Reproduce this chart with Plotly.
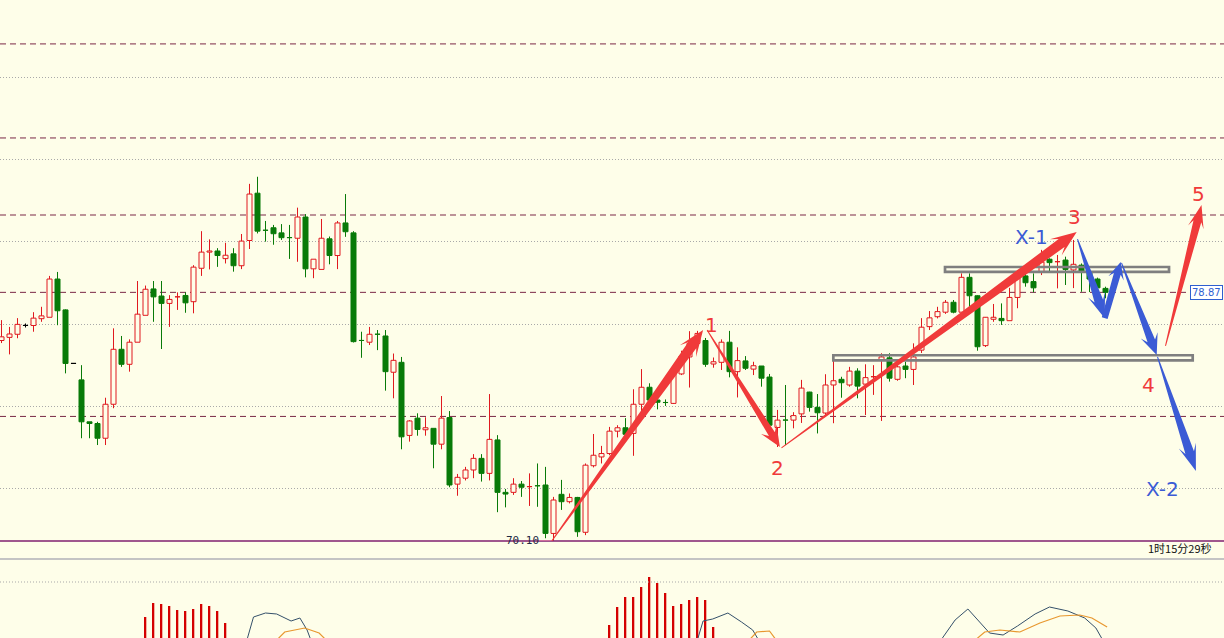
import plotly.graph_objects as go

W, H = 1224, 638
BG = "#fefee9"
RED = "#e0191f"
GREEN = "#087a08"
DASH_COL = "#7a2846"

# ---------------- price data (one candle per bar index) ----------------
opens = [77.17, 77.28, 77.39, 77.70, 77.70, 77.94, 77.99, 79.34, 78.25, 76.36,
         75.78, 74.30, 74.24, 73.72, 74.92, 76.86, 76.33, 77.11, 78.06, 78.99,
         78.74, 78.48, 78.71, 78.76, 78.54, 79.72, 80.29, 80.33, 80.06, 80.23,
         79.81, 80.70, 82.37, 81.06, 81.15, 80.97, 80.80, 80.78, 81.53, 79.70,
         79.68, 80.76, 80.17, 81.32, 80.97, 77.17, 77.11, 77.39, 77.33, 76.05,
         76.40, 73.82, 74.43, 74.02, 74.07, 73.51, 74.45, 72.10, 72.31, 72.60,
         73.01, 72.48, 73.66, 71.81, 71.81, 72.10, 72.01, 72.04, 72.07, 70.36,
         71.74, 71.48, 71.63, 70.40, 72.75, 73.06, 73.18, 73.97, 74.09, 73.89,
         74.92, 75.52, 75.07, 74.98, 74.95, 75.99, 76.59, 77.07, 77.17, 76.34,
         76.40, 77.11, 76.07, 76.45, 76.16, 76.27, 75.88, 74.10, 74.36, 74.36,
         74.58, 75.35, 74.81, 74.61, 75.60, 75.80, 75.60, 76.09, 75.63, 75.89,
         76.48, 76.56, 75.80, 76.27, 76.15, 76.83, 77.66, 78.01, 78.17, 78.52,
         78.17, 79.40, 78.75, 76.99, 77.92, 77.95, 77.87, 78.69, 79.45, 79.25,
         79.59, 80.04, 79.95, 80.01, 79.66, 79.83, 79.59, 79.34, 79.01]
highs = [77.89, 77.65, 77.96, 77.77, 78.17, 78.36, 79.45, 79.59, 78.27, 76.36,
         76.30, 74.30, 74.30, 75.15, 77.60, 77.33, 77.21, 79.27, 79.11, 79.27,
         79.27, 78.77, 78.87, 78.87, 79.83, 81.03, 80.74, 80.43, 80.62, 80.43,
         80.93, 82.70, 82.95, 81.39, 81.25, 81.28, 81.25, 81.86, 81.63, 80.04,
         81.46, 80.84, 81.39, 82.34, 81.03, 77.48, 77.65, 77.54, 77.54, 76.71,
         76.59, 74.36, 74.60, 74.46, 74.07, 75.21, 74.68, 72.46, 72.71, 73.16,
         73.16, 75.28, 73.83, 71.93, 72.31, 72.21, 72.48, 72.83, 72.71, 71.65,
         72.25, 71.77, 71.65, 72.83, 73.87, 73.45, 74.12, 74.18, 74.43, 75.45,
         76.16, 75.66, 75.19, 75.09, 76.10, 76.81, 77.50, 77.51, 77.26, 76.57,
         77.21, 77.51, 76.93, 76.62, 76.42, 76.27, 75.99, 74.72, 75.60, 74.64,
         75.78, 75.36, 75.28, 75.98, 76.62, 75.89, 76.24, 76.19, 76.33, 76.30,
         76.72, 76.72, 76.30, 76.42, 77.07, 77.96, 78.21, 78.36, 78.60, 78.60,
         79.54, 79.54, 78.77, 78.00, 78.46, 78.48, 79.03, 79.66, 79.54, 79.54,
         80.37, 80.07, 80.19, 80.13, 80.72, 79.89, 79.73, 79.39, 79.07]
lows = [77.08, 76.68, 77.25, 77.63, 77.48, 77.83, 77.99, 77.71, 76.01, 76.36,
        73.72, 73.72, 73.48, 73.48, 74.78, 76.24, 76.07, 77.11, 78.06, 77.83,
        76.87, 77.65, 78.25, 78.15, 78.13, 79.45, 79.68, 79.77, 79.89, 79.60,
        79.69, 80.40, 80.95, 80.66, 80.55, 80.72, 80.05, 79.95, 79.40, 79.37,
        79.68, 79.86, 79.69, 80.83, 77.10, 76.56, 77.01, 76.83, 75.40, 75.13,
        73.33, 73.60, 73.81, 73.81, 72.66, 73.33, 71.99, 71.69, 72.23, 72.31,
        72.19, 72.23, 71.11, 71.28, 71.72, 71.65, 71.33, 71.30, 70.19, 70.10,
        71.19, 71.42, 70.24, 70.30, 72.69, 72.83, 73.12, 73.75, 73.78, 73.10,
        74.60, 75.01, 74.74, 74.86, 74.93, 75.95, 75.51, 76.95, 76.24, 76.21,
        76.13, 75.87, 75.16, 76.13, 75.95, 75.54, 74.01, 73.41, 73.48, 74.07,
        74.26, 74.66, 73.89, 74.48, 74.25, 75.15, 75.54, 75.13, 74.54, 75.25,
        74.33, 75.72, 75.75, 75.84, 75.60, 76.73, 77.54, 77.95, 78.11, 78.13,
        78.17, 78.25, 76.81, 76.94, 77.83, 77.72, 77.87, 78.31, 79.07, 78.87,
        79.48, 79.60, 79.01, 79.13, 79.02, 78.89, 78.88, 78.95, 78.66]
closes = [77.30, 77.40, 77.74, 77.70, 77.96, 78.04, 79.34, 78.22, 76.36, 76.36,
          74.30, 74.24, 73.72, 74.92, 76.86, 76.33, 77.11, 78.10, 78.98, 78.71,
          78.48, 78.62, 78.71, 78.50, 79.76, 80.29, 80.33, 80.17, 80.18, 79.81,
          80.68, 82.34, 81.03, 81.06, 80.94, 80.80, 80.80, 81.53, 79.70, 80.04,
          80.78, 80.17, 81.32, 81.01, 77.13, 77.17, 77.39, 77.39, 76.07, 76.47,
          73.77, 74.33, 74.03, 74.09, 73.51, 74.43, 72.07, 72.34, 72.60, 73.01,
          72.48, 73.68, 71.81, 71.75, 72.10, 71.99, 72.01, 72.04, 70.36, 71.54,
          71.48, 71.63, 70.42, 72.77, 73.12, 73.18, 73.97, 74.09, 73.86, 74.92,
          75.52, 75.07, 74.99, 74.98, 75.99, 76.62, 77.07, 77.42, 76.33, 76.42,
          77.11, 76.07, 76.46, 76.19, 76.28, 75.84, 74.18, 74.36, 74.36, 74.52,
          75.49, 74.81, 74.62, 75.60, 75.75, 75.68, 76.09, 75.56, 75.86, 75.89,
          76.59, 75.84, 76.24, 76.15, 76.59, 77.64, 77.97, 78.19, 78.52, 78.17,
          79.40, 78.75, 76.95, 77.99, 77.99, 77.87, 78.69, 79.48, 79.21, 79.03,
          79.94, 79.92, 79.95, 79.68, 79.86, 79.60, 79.34, 79.03, 78.87]
# colour of the doji candles (open == close)
doji_colors = {3: "k", 9: "k", 22: "r", 33: "g", 36: "g", 45: "g", 47: "g",
               66: "r", 67: "g", 83: "g", 98: "g", 109: "r", 132: "r"}

# horizontal levels
dashed_levels = [87.64, 84.32, 81.60, 78.87, 74.49]
grid_start, grid_step = 71.95, 2.9
current_price = 78.87
zone_upper = (117.94, 145.94, 79.59, 79.765)   # i0, i1, p0, p1
zone_lower = (103.98, 148.9, 76.47, 76.65)

# wave arrows: (tail index, tail price, tip index, tip price, w0, w1, head len, head half-width, colour)
RED_A = "#f03a3a"
BLUE_A = "#3b5bd5"
arrows = [
    (68.8, 70.10, 87.7, 77.54, 1, 10, 26, 10, RED_A),
    (88.2, 77.54, 97.3, 73.41, 1, 7, 21, 9, RED_A),
    (97.5, 73.38, 134.4, 81.00, 1, 10, 26, 10, RED_A),
    (134.5, 80.75, 137.9, 77.96, 1, 9, 25, 9, BLUE_A),
    (137.9, 77.96, 139.9, 79.94, 6, 7, 17, 8, BLUE_A),
    (140.0, 79.91, 144.4, 76.66, 1, 8, 21, 9, BLUE_A),
    (144.5, 76.59, 149.3, 72.56, 1, 9, 27, 9, BLUE_A),
    (145.5, 76.98, 150.0, 81.95, 1, 8, 23, 8, RED_A),
]
wave_labels = [("1", 88.79, 77.72, RED_A), ("2", 97.04, 72.67, RED_A),
               ("3", 134.16, 81.53, RED_A), ("4", 143.41, 75.60, RED_A),
               ("5", 149.66, 82.34, RED_A), ("X-1", 128.79, 80.82, BLUE_A),
               ("X-2", 145.16, 71.93, BLUE_A)]

# ---------------- lower indicator panel ----------------
hist_idx = list(range(18, 29)) + list(range(76, 90))
hist_vals = [0.21, 0.35, 0.34, 0.32, 0.28, 0.27, 0.29, 0.34, 0.32, 0.27, 0.15,
             0.13, 0.31, 0.41, 0.41, 0.51, 0.61, 0.55, 0.45, 0.32, 0.34, 0.38, 0.41, 0.38, 0.11]
main_x = [30.5, 31.5, 33.0, 34.4, 36.2, 37.3, 38.2, 38.9, None,
          86.8, 87.7, 88.9, 90.8, 92.5, 93.9, 95.0, None,
          117.0, 119.2, 120.8, 122.0, 123.5, 125.2, 127.0, 129.2, 131.0, 133.3, 135.4, 136.8, 138.0]
main_v = [-0.07, 0.21, 0.25, 0.24, 0.17, 0.20, 0.08, -0.07, None,
          -0.07, 0.17, 0.19, 0.25, 0.16, 0.08, -0.07, None,
          -0.07, 0.18, 0.29, 0.18, 0.05, 0.03, 0.12, 0.24, 0.31, 0.27, 0.20, 0.10, -0.07]
sig_x = [33.8, 35.4, 37.9, 39.7, 41.2, None,
         92.9, 94.4, 96.0, 97.3, None,
         121.0, 122.9, 124.8, 127.3, 129.8, 132.3, 134.8, 136.3, 138.2]
sig_v = [-0.07, 0.06, 0.10, 0.05, -0.07, None,
         -0.07, 0.06, 0.07, -0.07, None,
         -0.07, 0.06, 0.08, 0.06, 0.15, 0.22, 0.23, 0.20, 0.11]

# ---------------- axes geometry ----------------
X0 = -1.5 / 8
X1 = X0 + W / 8
P_TOP, P_BOT = 89.19, 70.0927
MAIN_PX = 541
MAIN_DOM0 = 1 - MAIN_PX / H
SUB_TOP_PX = 559
SUB_DOM1 = 1 - SUB_TOP_PX / H


def to_px(i, p):
    return ((i - X0) / (X1 - X0) * W, (P_TOP - p) / (P_TOP - P_BOT) * MAIN_PX)


def to_dat(x, y):
    return (X0 + x / W * (X1 - X0), P_TOP - y / MAIN_PX * (P_TOP - P_BOT))


def arrow_path(ti, tp, hi, hp, w0, w1, hl, hw):
    tx, ty = to_px(ti, tp)
    px, py = to_px(hi, hp)
    dx, dy = px - tx, py - ty
    L = (dx * dx + dy * dy) ** 0.5
    ux, uy = dx / L, dy / L
    nx, ny = -uy, ux
    bsx, bsy = px - ux * hl * 0.72, py - uy * hl * 0.72
    bbx, bby = px - ux * hl, py - uy * hl
    pts = [(tx + nx * w0 / 2, ty + ny * w0 / 2),
           (bsx + nx * w1 / 2, bsy + ny * w1 / 2),
           (bbx + nx * hw, bby + ny * hw),
           (px, py),
           (bbx - nx * hw, bby - ny * hw),
           (bsx - nx * w1 / 2, bsy - ny * w1 / 2),
           (tx - nx * w0 / 2, ty - ny * w0 / 2)]
    d = [to_dat(x, y) for x, y in pts]
    return "M " + " L ".join(f"{a:.4f},{b:.4f}" for a, b in d) + " Z"


n = len(opens)
idx = list(range(n))
kind = []
for i in idx:
    if closes[i] > opens[i]:
        kind.append("r")
    elif closes[i] < opens[i]:
        kind.append("g")
    else:
        kind.append(doji_colors.get(i, "k"))
line_col = {"r": RED, "g": GREEN, "k": "#000000"}
fill_col = {"r": BG, "g": GREEN, "k": "#000000"}

fig = go.Figure()

# wicks
for k in "rgk":
    xs, ys = [], []
    for i in idx:
        if kind[i] != k:
            continue
        top = max(opens[i], closes[i])
        bot = min(opens[i], closes[i])
        if highs[i] > top:
            xs += [i, i, None]
            ys += [highs[i], top, None]
        if lows[i] < bot:
            xs += [i, i, None]
            ys += [bot, lows[i], None]
    if xs:
        fig.add_trace(go.Scatter(x=xs, y=ys, mode="lines", hoverinfo="skip",
                                 line=dict(color=line_col[k], width=1)))

# bodies
body_base = [min(o, c) for o, c in zip(opens, closes)]
body_h = [max(abs(c - o), 0.004) for o, c in zip(opens, closes)]
fig.add_trace(go.Bar(x=idx, y=body_h, base=body_base, width=0.625, hoverinfo="skip",
                     marker=dict(color=[fill_col[k] for k in kind],
                                 line=dict(color=[line_col[k] for k in kind], width=1))))

# indicator panel
fig.add_trace(go.Bar(x=hist_idx, y=[v + 0.3 for v in hist_vals], base=-0.3, width=0.2,
                     marker=dict(color="#d40000", line=dict(width=0)),
                     xaxis="x2", yaxis="y2", hoverinfo="skip"))
fig.add_trace(go.Scatter(x=main_x, y=main_v, mode="lines", line=dict(color="#34506a", width=1),
                         xaxis="x2", yaxis="y2", hoverinfo="skip"))
fig.add_trace(go.Scatter(x=sig_x, y=sig_v, mode="lines", line=dict(color="#e8972e", width=1.2),
                         xaxis="x2", yaxis="y2", hoverinfo="skip"))

shapes = []
for lv in dashed_levels:
    x1 = 1188 / W if lv == current_price else 1
    shapes.append(dict(type="line", xref="paper", yref="y", x0=0, x1=x1, y0=lv, y1=lv,
                       line=dict(color=DASH_COL, width=1, dash="6px,4px"), layer="below"))
# panel separators
shapes.append(dict(type="line", xref="paper", yref="paper", x0=0, x1=1,
                   y0=MAIN_DOM0, y1=MAIN_DOM0, line=dict(color="#7f1f6f", width=1.5)))
shapes.append(dict(type="line", xref="paper", yref="paper", x0=0, x1=1,
                   y0=SUB_DOM1, y1=SUB_DOM1, line=dict(color="#c4c4c4", width=2)))
shapes.append(dict(type="line", xref="paper", yref="y2", x0=0, x1=1, y0=0.56, y1=0.56,
                   line=dict(color="#a9a9a9", width=1, dash="1px,2px")))
# zones
for z in (zone_upper, zone_lower):
    shapes.append(dict(type="rect", xref="x", yref="y", x0=z[0], x1=z[1], y0=z[2], y1=z[3],
                       line=dict(color="#7f7f7f", width=2.7), fillcolor="rgba(0,0,0,0)", layer="above"))
# low marker tick
shapes.append(dict(type="line", xref="x", yref="y", x0=67.1, x1=68.8, y0=lows[69], y1=lows[69],
                   line=dict(color="#e27aa0", width=1)))
# arrows
for a in arrows:
    shapes.append(dict(type="path", xref="x", yref="y", path=arrow_path(*a[:8]),
                       fillcolor=a[8], line=dict(width=0), layer="above"))

annotations = []
for txt, xi, yp, c in wave_labels:
    annotations.append(dict(x=xi, y=yp, xref="x", yref="y", text=txt, showarrow=False,
                            font=dict(family="DejaVu Sans", size=20, color=c)))
annotations.append(dict(x=65.1, y=lows[69], xref="x", yref="y", text=f"{lows[69]:.2f}",
                        showarrow=False, font=dict(family="DejaVu Sans Mono", size=11, color="#1f2a44")))
annotations.append(dict(x=1190 / W, y=1 - 292.8 / H, xref="paper", yref="paper", xanchor="left",
                        yanchor="middle", text=f"{current_price:.2f}", showarrow=False,
                        bgcolor="#ffffff", bordercolor="#2f5fd0", borderwidth=1, borderpad=1,
                        font=dict(family="DejaVu Sans", size=10, color="#2f5fd0")))
annotations.append(dict(x=1214 / W, y=1 - 548 / H, xref="paper", yref="paper", xanchor="right",
                        yanchor="middle", text="1时15分29秒", showarrow=False,
                        font=dict(family="Noto Sans CJK SC", size=11, color="#111111")))

fig.update_layout(
    width=W, height=H, margin=dict(l=0, r=0, t=0, b=0),
    paper_bgcolor=BG, plot_bgcolor=BG, showlegend=False, barmode="overlay",
    xaxis=dict(domain=[0, 1], range=[X0, X1], showgrid=False, zeroline=False,
               showticklabels=False, ticks="", showline=False, anchor="y"),
    yaxis=dict(domain=[MAIN_DOM0, 1], range=[P_BOT, P_TOP], showgrid=True,
               gridcolor="#a9a9a9", gridwidth=1, griddash="1px,2px",
               tick0=grid_start, dtick=grid_step, showticklabels=False, ticks="",
               zeroline=False, showline=False),
    xaxis2=dict(domain=[0, 1], range=[X0, X1], anchor="y2", visible=False),
    yaxis2=dict(domain=[0, SUB_DOM1], range=[0, 0.79], visible=False),
    shapes=shapes, annotations=annotations,
)

fig.write_html("out.html", config={"displayModeBar": False},
               post_script="document.body.style.margin='0';document.body.style.overflow='hidden';")
